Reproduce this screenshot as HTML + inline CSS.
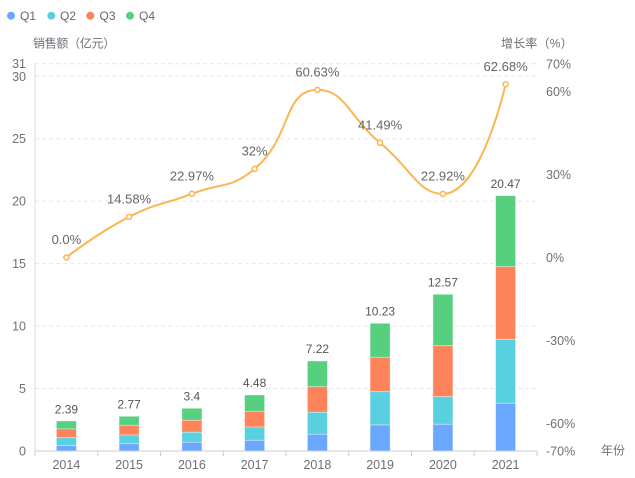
<!DOCTYPE html>
<html>
<head>
<meta charset="utf-8">
<style>
html,body{margin:0;padding:0;background:#fff;}
svg{display:block;}
text{font-family:"Liberation Sans","Noto Sans CJK SC",sans-serif;}
</style>
</head>
<body>
<svg width="635" height="478" viewBox="0 0 635 478" xmlns="http://www.w3.org/2000/svg">
<!-- legend -->
<g font-size="12" fill="#666">
<circle cx="11" cy="15.7" r="4" fill="#6aa7ff"/><text x="20" y="20">Q1</text>
<circle cx="51.3" cy="15.7" r="4" fill="#58d0e0"/><text x="60" y="20">Q2</text>
<circle cx="90.3" cy="15.7" r="4" fill="#fd845a"/><text x="99.5" y="20">Q3</text>
<circle cx="130" cy="15.7" r="4" fill="#56cf7f"/><text x="139" y="20">Q4</text>
</g>
<!-- axis names -->
<text x="33" y="47.5" font-size="12" fill="#6e7079" letter-spacing="-0.3">销售额（亿元）</text>
<text x="501" y="47.5" font-size="12" fill="#6e7079" letter-spacing="0.2">增长率（%）</text>
<text x="601" y="454.5" font-size="12" fill="#6e7079">年份</text>
<!-- grid -->
<g stroke="#e0e6f1" stroke-width="1" stroke-dasharray="4,3">
<line x1="35" y1="63.8" x2="537" y2="63.8"/>
<line x1="35" y1="76.3" x2="537" y2="76.3"/>
<line x1="35" y1="138.75" x2="537" y2="138.75"/>
<line x1="35" y1="201.2" x2="537" y2="201.2"/>
<line x1="35" y1="263.65" x2="537" y2="263.65"/>
<line x1="35" y1="326.1" x2="537" y2="326.1"/>
<line x1="35" y1="388.55" x2="537" y2="388.55"/>
</g>
<!-- left axis labels -->
<g font-size="12.5" fill="#6e7079" text-anchor="end">
<text x="26" y="68">31</text>
<text x="26" y="80.8">30</text>
<text x="26" y="143.2">25</text>
<text x="26" y="205.7">20</text>
<text x="26" y="268.1">15</text>
<text x="26" y="330.6">10</text>
<text x="26" y="393">5</text>
<text x="26" y="455.5">0</text>
</g>
<!-- right axis labels -->
<g font-size="12.5" fill="#6e7079">
<text x="546" y="68.3">70%</text>
<text x="546" y="96">60%</text>
<text x="546" y="178.9">30%</text>
<text x="546" y="261.9">0%</text>
<text x="546" y="344.9">-30%</text>
<text x="546" y="427.9">-60%</text>
<text x="546" y="455.5">-70%</text>
</g>
<!-- bars -->
<g stroke="rgba(255,255,255,0.45)" stroke-width="0.8">
<rect x="56.4" y="421" width="20" height="8" fill="#56cf7f"/>
<rect x="56.4" y="429" width="20" height="8.7" fill="#fd845a"/>
<rect x="56.4" y="437.7" width="20" height="8" fill="#58d0e0"/>
<rect x="56.4" y="445.7" width="20" height="5.3" fill="#6aa7ff"/>
<rect x="119.1" y="416.3" width="20" height="9" fill="#56cf7f"/>
<rect x="119.1" y="425.3" width="20" height="9.7" fill="#fd845a"/>
<rect x="119.1" y="435" width="20" height="8.7" fill="#58d0e0"/>
<rect x="119.1" y="443.7" width="20" height="7.3" fill="#6aa7ff"/>
<rect x="181.9" y="408.3" width="20" height="12" fill="#56cf7f"/>
<rect x="181.9" y="420.3" width="20" height="12" fill="#fd845a"/>
<rect x="181.9" y="432.3" width="20" height="10" fill="#58d0e0"/>
<rect x="181.9" y="442.3" width="20" height="8.7" fill="#6aa7ff"/>
<rect x="244.6" y="395" width="20" height="16.3" fill="#56cf7f"/>
<rect x="244.6" y="411.3" width="20" height="15.7" fill="#fd845a"/>
<rect x="244.6" y="427" width="20" height="13.3" fill="#58d0e0"/>
<rect x="244.6" y="440.3" width="20" height="10.7" fill="#6aa7ff"/>
<rect x="307.4" y="361" width="20" height="25.7" fill="#56cf7f"/>
<rect x="307.4" y="386.7" width="20" height="25.6" fill="#fd845a"/>
<rect x="307.4" y="412.3" width="20" height="22" fill="#58d0e0"/>
<rect x="307.4" y="434.3" width="20" height="16.7" fill="#6aa7ff"/>
<rect x="370.1" y="323.3" width="20" height="34" fill="#56cf7f"/>
<rect x="370.1" y="357.3" width="20" height="34.4" fill="#fd845a"/>
<rect x="370.1" y="391.7" width="20" height="33.3" fill="#58d0e0"/>
<rect x="370.1" y="425" width="20" height="26" fill="#6aa7ff"/>
<rect x="432.9" y="294.3" width="20" height="51.4" fill="#56cf7f"/>
<rect x="432.9" y="345.7" width="20" height="51" fill="#fd845a"/>
<rect x="432.9" y="396.7" width="20" height="27.6" fill="#58d0e0"/>
<rect x="432.9" y="424.3" width="20" height="26.7" fill="#6aa7ff"/>
<rect x="495.6" y="195.7" width="20" height="71" fill="#56cf7f"/>
<rect x="495.6" y="266.7" width="20" height="72.6" fill="#fd845a"/>
<rect x="495.6" y="339.3" width="20" height="64" fill="#58d0e0"/>
<rect x="495.6" y="403.3" width="20" height="47.7" fill="#6aa7ff"/>
</g>
<!-- axes -->
<line x1="35" y1="63.8" x2="35" y2="451" stroke="#d8dbe2" stroke-width="1"/>
<line x1="35" y1="451" x2="537" y2="451" stroke="#c8ccd4" stroke-width="1"/>
<g stroke="#c8ccd4" stroke-width="1">
<line x1="35" y1="451" x2="35" y2="456"/>
<line x1="97.75" y1="451" x2="97.75" y2="456"/>
<line x1="160.5" y1="451" x2="160.5" y2="456"/>
<line x1="223.25" y1="451" x2="223.25" y2="456"/>
<line x1="286" y1="451" x2="286" y2="456"/>
<line x1="348.75" y1="451" x2="348.75" y2="456"/>
<line x1="411.5" y1="451" x2="411.5" y2="456"/>
<line x1="474.25" y1="451" x2="474.25" y2="456"/>
<line x1="537" y1="451" x2="537" y2="456"/>
</g>
<!-- x labels -->
<g font-size="12.5" fill="#6e7079" text-anchor="middle">
<text x="66.4" y="468.8">2014</text>
<text x="129.1" y="468.8">2015</text>
<text x="191.9" y="468.8">2016</text>
<text x="254.6" y="468.8">2017</text>
<text x="317.4" y="468.8">2018</text>
<text x="380.1" y="468.8">2019</text>
<text x="442.9" y="468.8">2020</text>
<text x="505.6" y="468.8">2021</text>
</g>
<!-- bar totals -->
<g font-size="12" fill="#555" text-anchor="middle">
<text x="66.4" y="413.5">2.39</text>
<text x="129.1" y="408.5">2.77</text>
<text x="191.9" y="400.5">3.4</text>
<text x="254.6" y="387">4.48</text>
<text x="317.4" y="353">7.22</text>
<text x="380.1" y="315.5">10.23</text>
<text x="442.9" y="286.5">12.57</text>
<text x="505.6" y="188">20.47</text>
</g>
<!-- line -->
<path d="M66.4,257.5 C66.4,257.5 96.02,233.70 129.1,216.9 C158.76,201.84 160.65,205.75 191.9,193.8 C223.4,181.75 229.46,189.72 254.6,168.9 C292.21,137.76 282.78,89.9 317.4,89.9 C345.54,89.9 348.52,116.63 380.1,142.8 C411.27,168.63 418.39,193.9 442.9,193.9 C481.13,193.9 505.6,84.3 505.6,84.3" fill="none" stroke="#fbb551" stroke-width="2"/>
<g fill="#fff" stroke="#fbb551" stroke-width="1.5">
<circle cx="66.4" cy="257.5" r="2.5"/>
<circle cx="129.1" cy="216.9" r="2.5"/>
<circle cx="191.9" cy="193.8" r="2.5"/>
<circle cx="254.6" cy="168.9" r="2.5"/>
<circle cx="317.4" cy="89.9" r="2.5"/>
<circle cx="380.1" cy="142.8" r="2.5"/>
<circle cx="442.9" cy="193.9" r="2.5"/>
<circle cx="505.6" cy="84.3" r="2.5"/>
</g>
<!-- line labels -->
<g font-size="13" fill="#666" text-anchor="middle">
<text x="66.4" y="244">0.0%</text>
<text x="129.1" y="203.4">14.58%</text>
<text x="191.9" y="180.3">22.97%</text>
<text x="254.6" y="155.4">32%</text>
<text x="317.4" y="76.4">60.63%</text>
<text x="380.1" y="129.3">41.49%</text>
<text x="442.9" y="180.4">22.92%</text>
<text x="505.6" y="70.8">62.68%</text>
</g>
</svg>
</body>
</html>
